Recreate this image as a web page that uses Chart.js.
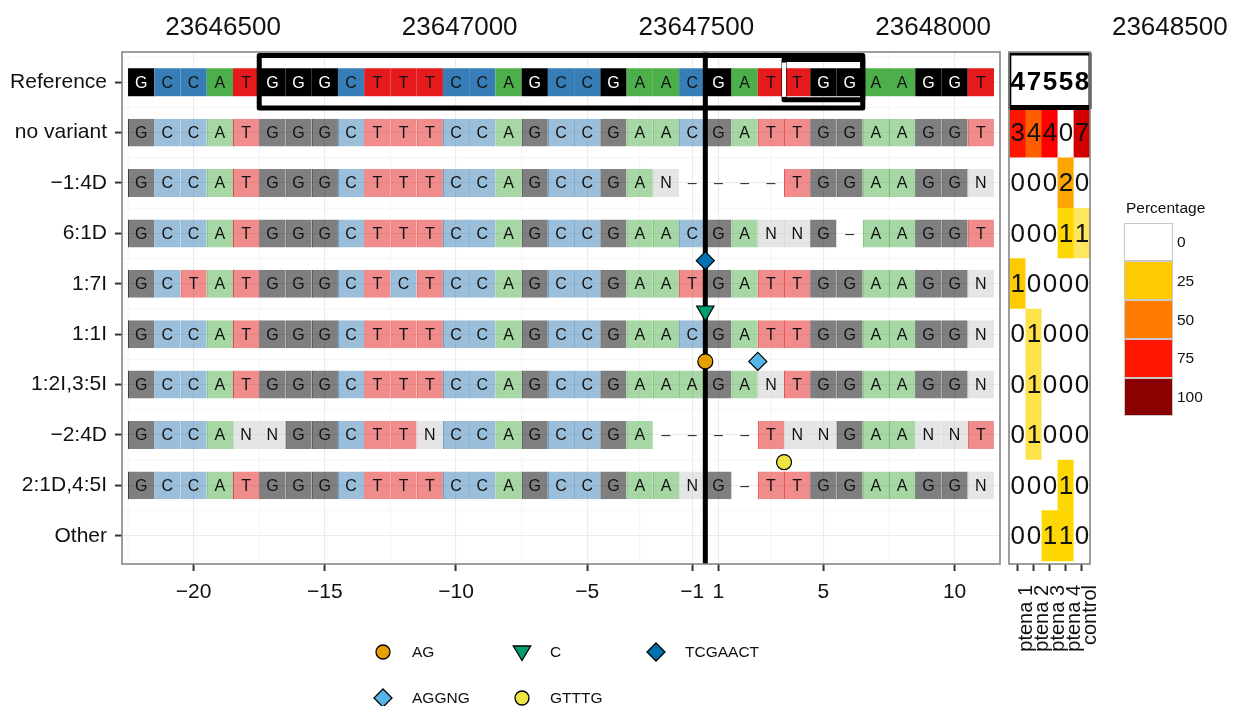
<!DOCTYPE html>
<html>
<head>
<meta charset="utf-8">
<title>Allele plot</title>
<script src="https://cdn.jsdelivr.net/npm/chart.js@4.4.1/dist/chart.umd.min.js"></script>
<style>
  body { margin: 0; background: #fff; font-family: "Liberation Sans", Arial, Helvetica, sans-serif; color: #111; }
  #wrap { position: relative; width: 1233px; height: 706px; overflow: hidden; }
  #main, #heat { position: absolute; top: 0; }
  #main { left: 0; }
  #heat { left: 1000px; }
  .txt { position: absolute; font-size: 15.5px; line-height: 18px; white-space: nowrap; }
  .key { position: absolute; box-sizing: border-box; border: 1px solid #c8c8c8; }
  .sym { position: absolute; width: 22px; height: 22px; }
</style>
</head>
<body>
<div id="wrap">
  <canvas id="main" width="1233" height="706"></canvas>
  <canvas id="heat" width="100" height="706"></canvas>
  <div id="legends"></div>
</div>
<script>
// ---- data ----
const rowLabels = ['Reference', 'no variant', '\u22121:4D', '6:1D', '1:7I', '1:1I',
                   '1:2I,3:5I', '\u22122:4D', '2:1D,4:5I', 'Other'];
const refSeq = 'GCCATGGGCTTTCCAGCCGAACGATTGGAAGGT';
const alleleSeqs = [
  'GCCATGGGCTTTCCAGCCGAACGATTGGAAGGT',   // no variant
  'GCCATGGGCTTTCCAGCCGAN----TGGAAGGN',   // -1:4D
  'GCCATGGGCTTTCCAGCCGAACGANNG-AAGGT',   // 6:1D
  'GCTATGGGCTCTCCAGCCGAATGATTGGAAGGN',   // 1:7I
  'GCCATGGGCTTTCCAGCCGAACGATTGGAAGGN',   // 1:1I
  'GCCATGGGCTTTCCAGCCGAAAGANTGGAAGGN',   // 1:2I,3:5I
  'GCCANNGGCTTNCCAGCCGA----TNNGAANNT',   // -2:4D
  'GCCATGGGCTTTCCAGCCGAANG-TTGGAAGGN'    // 2:1D,4:5I
];
const leftLen = 22;                      // bases left of the cut site (-22..-1)
const xTickPositions = [-20, -15, -10, -5, -1, 1, 5, 10];
const guideRange = [-17, 6];             // guide + PAM
const pamRange = [4, 6];
const genomicTicks = [23646500, 23647000, 23647500, 23648000, 23648500];

const insSeqs = ['AG', 'C', 'TCGAACT', 'AGGNG', 'GTTTG'];
const insRows = ['1:2I,3:5I', '1:1I', '1:7I', '1:2I,3:5I', '2:1D,4:5I'];
const insPos = [1, 1, 1, 3, 4];

const sampleNames = ['ptena 1', 'ptena 2', 'ptena 3', 'ptena 4', 'control'];
const sampleTotals = [4, 7, 5, 5, 8];
const alleleCounts = [
  [3, 4, 4, 0, 7],
  [0, 0, 0, 2, 0],
  [0, 0, 0, 1, 1],
  [1, 0, 0, 0, 0],
  [0, 1, 0, 0, 0],
  [0, 1, 0, 0, 0],
  [0, 1, 0, 0, 0],
  [0, 0, 0, 1, 0],
  [0, 0, 1, 1, 0]
];
const pctBreaks = [0, 25, 50, 75, 100];

// ---- styles ----
const FONT = '"Liberation Sans", Arial, Helvetica, sans-serif';
Chart.defaults.font.family = FONT;
Chart.defaults.color = '#111';

const baseRGB = { A: [77, 175, 74], C: [55, 126, 184], G: [0, 0, 0], T: [228, 26, 28], N: [204, 204, 204] };
const tileColor = (b, a) => { const c = baseRGB[b]; return `rgba(${c[0]},${c[1]},${c[2]},${a})`; };

const insShapes = ['circle', 'triangle', 'rectRot', 'rectRot', 'circle'];
const insRadius = [7.5, 10, 9, 9, 7.5];
const insRotation = [0, 180, 0, 0, 0];
const insColors = ['#E69F00', '#009E73', '#0072B2', '#56B4E9', '#F0E442'];

const rampAt = [0, 20, 40, 80, 100];
const rampRGB = [[255, 255, 255], [255, 215, 0], [255, 165, 0], [255, 0, 0], [139, 0, 0]];
function pctColor(p) {
  let k = 0;
  while (k < rampAt.length - 2 && p > rampAt[k + 1]) k++;
  const t = Math.min(1, Math.max(0, (p - rampAt[k]) / (rampAt[k + 1] - rampAt[k])));
  const c = rampRGB[k].map((v, j) => Math.round(v + (rampRGB[k + 1][j] - v) * t));
  return `rgb(${c[0]},${c[1]},${c[2]})`;
}

const posToIdx = p => (p < 0 ? p + leftLen : p + leftLen - 1);
const yMin = -0.6, yMax = 9.56;

// ---- main tile panel ----
const allSeqs = [refSeq, ...alleleSeqs];
const tiles = [];
allSeqs.forEach((s, r) => {
  [...s].forEach((b, i) => { if (b !== '-') tiles.push({ x: [i - 0.5, i + 0.5], y: r, nt: b }); });
});

const insDatasets = insSeqs.map((s, k) => ({
  type: 'scatter',
  label: s,
  order: 1,
  data: [{ x: insPos[k] + leftLen - 1.5, y: rowLabels.indexOf(insRows[k]) - 0.46 }],
  pointStyle: insShapes[k],
  pointRadius: insRadius[k],
  pointRotation: insRotation[k],
  pointBackgroundColor: insColors[k],
  pointBorderColor: '#000',
  pointBorderWidth: 1.2
}));

const xMajor = xTickPositions.map(posToIdx);
const xMinor = [xMajor[0] - (xMajor[1] - xMajor[0]) / 2];
for (let i = 1; i < xMajor.length; i++) xMinor.push((xMajor[i - 1] + xMajor[i]) / 2);
xMinor.push(xMajor[xMajor.length - 1] + (xMajor[xMajor.length - 1] - xMajor[xMajor.length - 2]) / 2);

const mainPlugin = {
  id: 'mainDecor',
  beforeDatasetsDraw(chart) {
    const { ctx, chartArea: a, scales: { x, y } } = chart;
    ctx.save();
    ctx.strokeStyle = '#F2F2F2';
    ctx.lineWidth = 0.8;
    xMinor.forEach(v => {
      const px = x.getPixelForValue(v);
      if (px < a.left || px > a.right) return;
      ctx.beginPath(); ctx.moveTo(px, a.top); ctx.lineTo(px, a.bottom); ctx.stroke();
    });
    for (let r = -0.5; r <= rowLabels.length - 0.5; r += 1) {
      const py = y.getPixelForValue(r);
      if (py < a.top || py > a.bottom) continue;
      ctx.beginPath(); ctx.moveTo(a.left, py); ctx.lineTo(a.right, py); ctx.stroke();
    }
    ctx.restore();
  },
  afterDatasetDraw(chart, args) {
    if (args.meta.type !== 'bar') return;
    const { ctx, chartArea: a, scales: { x, y } } = chart;
    ctx.save();
    // letters
    ctx.font = '16px ' + FONT;
    ctx.textAlign = 'center';
    ctx.textBaseline = 'middle';
    allSeqs.forEach((s, r) => {
      [...s].forEach((b, i) => {
        ctx.fillStyle = (r === 0 && b === 'G') ? '#fff' : (b === '-' ? '#333' : '#111');
        ctx.fillText(b === '-' ? '\u2013' : b, x.getPixelForValue(i), y.getPixelForValue(r) + 1);
      });
    });
    // guide and PAM boxes
    ctx.strokeStyle = '#000';
    ctx.lineJoin = 'round';
    ctx.lineWidth = 5;
    const gx0 = x.getPixelForValue(posToIdx(guideRange[0]) - 0.5);
    const gx1 = x.getPixelForValue(posToIdx(guideRange[1]) + 0.5);
    const gy0 = y.getPixelForValue(-0.53), gy1 = y.getPixelForValue(0.51);
    ctx.strokeRect(gx0, gy0, gx1 - gx0, gy1 - gy0);
    const px0 = x.getPixelForValue(posToIdx(pamRange[0]) - 0.5);
    const py0 = y.getPixelForValue(-0.45), py1 = y.getPixelForValue(0.35);
    ctx.strokeRect(px0, py0, gx1 - px0, py1 - py0);
    ctx.strokeStyle = '#fff';
    ctx.lineWidth = 4;
    ctx.beginPath(); ctx.moveTo(px0, py0 + 3); ctx.lineTo(px0, py1 - 3); ctx.stroke();
    // cut site
    const cx = x.getPixelForValue(leftLen - 0.5);
    ctx.strokeStyle = '#000';
    ctx.lineWidth = 5;
    ctx.beginPath(); ctx.moveTo(cx, a.top); ctx.lineTo(cx, a.bottom); ctx.stroke();
    ctx.restore();
  },
  afterDraw(chart) {
    const { ctx, chartArea: a, scales: { x } } = chart;
    ctx.save();
    ctx.font = '26px ' + FONT;
    ctx.fillStyle = '#111';
    ctx.textAlign = 'center';
    ctx.textBaseline = 'middle';
    genomicTicks.forEach(g => {
      const u = 3.12 + (g - genomicTicks[0]) * 9.02 / 500;
      ctx.fillText(String(g), x.getPixelForValue(u), a.top - 24);
    });
    ctx.strokeStyle = '#858585';
    ctx.lineWidth = 1.6;
    ctx.strokeRect(a.left, a.top, a.right - a.left, a.bottom - a.top);
    ctx.restore();
  }
};

new Chart(document.getElementById('main'), {
  data: {
    datasets: [
      {
        type: 'bar',
        indexAxis: 'y',
        order: 2,
        grouped: false,
        data: tiles,
        barPercentage: 0.555,
        categoryPercentage: 1,
        backgroundColor: c => (c.raw ? tileColor(c.raw.nt, c.raw.y === 0 ? 1 : 0.5) : '#ccc'),
        borderColor: c => (c.raw ? tileColor(c.raw.nt, 0.8) : '#ccc'),
        borderWidth: c => ((c.raw && c.raw.y > 0) ? { left: 1, right: 0, top: 0, bottom: 0 } : 0),
        borderSkipped: false
      },
      ...insDatasets
    ]
  },
  options: {
    responsive: false,
    animation: false,
    events: [],
    layout: { padding: { left: 0, top: 52, right: 233, bottom: 0 } },
    plugins: { legend: { display: false }, tooltip: { enabled: false } },
    scales: {
      x: {
        type: 'linear',
        min: -0.73,
        max: 32.73,
        offset: false,
        afterBuildTicks: s => { s.ticks = xMajor.map(v => ({ value: v })); },
        afterFit: s => { s.height = 142; s.paddingLeft = 0; s.paddingRight = 0; },
        ticks: {
          autoSkip: false, maxRotation: 0, padding: 9, color: '#111', font: { size: 21 },
          callback: (v, i) => (xTickPositions[i] < 0 ? '\u2212' + (-xTickPositions[i]) : String(xTickPositions[i]))
        },
        grid: { offset: false, color: '#EBEBEB', lineWidth: 1.1, tickLength: 7, tickWidth: 2, tickColor: '#333' },
        border: { display: false }
      },
      y: {
        type: 'linear',
        min: yMin,
        max: yMax,
        reverse: true,
        offset: false,
        afterBuildTicks: s => { s.ticks = rowLabels.map((l, i) => ({ value: i })); },
        afterFit: s => { s.width = 122; s.paddingTop = 0; s.paddingBottom = 0; },
        ticks: { autoSkip: false, padding: 8, color: '#111', font: { size: 21 }, callback: (v, i) => rowLabels[i] },
        grid: { offset: false, color: '#EBEBEB', lineWidth: 1.1, tickLength: 7, tickWidth: 2, tickColor: '#333' },
        border: { display: false }
      }
    }
  },
  plugins: [mainPlugin]
});

// ---- count heatmap ----
const cells = [];
alleleCounts.forEach((row, a) => row.forEach((n, c) => {
  cells.push({ x: [c - 0.5, c + 0.5], y: a + 1, n: n, pct: 100 * n / sampleTotals[c] });
}));

const heatPlugin = {
  id: 'heatDecor',
  afterDatasetsDraw(chart) {
    const { ctx, chartArea: a, scales: { x, y } } = chart;
    ctx.save();
    // reference totals box
    const bx0 = x.getPixelForValue(-0.5), bx1 = x.getPixelForValue(sampleNames.length - 0.5);
    const by0 = y.getPixelForValue(-0.56), by1 = y.getPixelForValue(0.5);
    ctx.fillStyle = '#fff';
    ctx.fillRect(bx0, by0, bx1 - bx0, by1 - by0);
    ctx.strokeStyle = '#000';
    ctx.lineWidth = 3;
    ctx.strokeRect(bx0, by0, bx1 - bx0, by1 - by0);
    ctx.lineWidth = 5;
    ctx.beginPath(); ctx.moveTo(bx0, by1); ctx.lineTo(bx1, by1); ctx.stroke();
    ctx.textAlign = 'center';
    ctx.textBaseline = 'middle';
    ctx.fillStyle = '#000';
    ctx.font = 'bold 26px ' + FONT;
    sampleTotals.forEach((t, c) => ctx.fillText(String(t), x.getPixelForValue(c), y.getPixelForValue(0) + 1));
    ctx.font = '26px ' + FONT;
    ctx.fillStyle = '#111';
    cells.forEach(d => ctx.fillText(String(d.n), x.getPixelForValue((d.x[0] + d.x[1]) / 2), y.getPixelForValue(d.y) + 1));
    ctx.strokeStyle = '#858585';
    ctx.lineWidth = 1.6;
    ctx.strokeRect(a.left, a.top, a.right - a.left, a.bottom - a.top);
    ctx.restore();
  }
};

new Chart(document.getElementById('heat'), {
  type: 'bar',
  data: {
    datasets: [{
      indexAxis: 'y',
      grouped: false,
      data: cells,
      barPercentage: 1,
      categoryPercentage: 1,
      backgroundColor: c => (c.raw ? pctColor(c.raw.pct) : '#fff'),
      borderWidth: 0
    }]
  },
  options: {
    indexAxis: 'y',
    responsive: false,
    animation: false,
    events: [],
    layout: { padding: { left: 9, top: 52, right: 10, bottom: 0 } },
    plugins: { legend: { display: false }, tooltip: { enabled: false } },
    scales: {
      x: {
        type: 'linear',
        min: -0.55,
        max: sampleNames.length - 0.5,
        offset: false,
        afterBuildTicks: s => { s.ticks = sampleNames.map((n, i) => ({ value: i })); },
        afterFit: s => { s.height = 142; s.paddingLeft = 0; s.paddingRight = 0; },
        ticks: { autoSkip: false, minRotation: 90, maxRotation: 90, padding: 14, labelOffset: 9,
                 color: '#111', font: { size: 20 }, callback: (v, i) => sampleNames[i] },
        grid: { offset: false, drawOnChartArea: false, tickLength: 7, tickWidth: 2, tickColor: '#333' },
        border: { display: false }
      },
      y: {
        type: 'linear',
        display: false,
        min: yMin,
        max: yMax,
        reverse: true,
        offset: false,
        grid: { offset: false },
        afterBuildTicks: s => { s.ticks = rowLabels.map((l, i) => ({ value: i })); }
      }
    }
  },
  plugins: [heatPlugin]
});

// ---- legends ----
const legends = document.getElementById('legends');
function addText(str, left, top, extra) {
  const d = document.createElement('div');
  d.className = 'txt';
  d.textContent = str;
  d.style.left = left + 'px';
  d.style.top = top + 'px';
  if (extra) Object.assign(d.style, extra);
  legends.appendChild(d);
}

addText('Percentage', 1126, 199);
const keyTop = 222.5, keyH = 38.8;
pctBreaks.forEach((p, k) => {
  const d = document.createElement('div');
  d.className = 'key';
  Object.assign(d.style, { left: '1124px', top: (keyTop + k * keyH) + 'px', width: '49px',
                           height: keyH + 'px', background: pctColor(p) });
  legends.appendChild(d);
  addText(String(p), 1177, keyTop + k * keyH + keyH / 2 - 9);
});

const symX = [383, 522, 656], labX = [412, 550, 685], rowY = [652, 698];
function shapeSvg(k) {
  const f = insColors[k], s = 'stroke="#000" stroke-width="1.3"';
  let body;
  if (insShapes[k] === 'circle') body = `<circle cx="11" cy="11" r="7" fill="${f}" ${s}/>`;
  else if (insShapes[k] === 'triangle') body = `<polygon points="11,19.5 2.3,5 19.7,5" fill="${f}" ${s}/>`;
  else body = `<polygon points="11,2 20,11 11,20 2,11" fill="${f}" ${s}/>`;
  return `<svg width="22" height="22" viewBox="0 0 22 22">${body}</svg>`;
}
insSeqs.forEach((s, k) => {
  const col = k % 3, row = Math.floor(k / 3);
  const d = document.createElement('div');
  d.className = 'sym';
  d.style.left = (symX[col] - 11) + 'px';
  d.style.top = (rowY[row] - 11) + 'px';
  d.innerHTML = shapeSvg(k);
  legends.appendChild(d);
  addText(s, labX[col], rowY[row] - 9);
});
</script>
</body>
</html>
